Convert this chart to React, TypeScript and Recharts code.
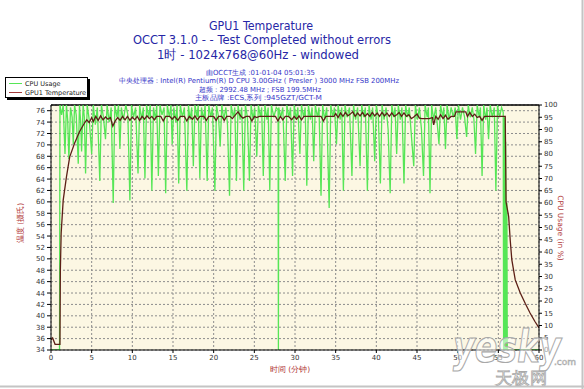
import { LineChart, Line, XAxis, YAxis, CartesianGrid, ReferenceLine } from "recharts";

// axis ticks
const minuteTicks = [0, 5, 10, 15, 20, 25, 30, 35, 40, 45, 50, 55, 60];
const tempTicks = [34, 36, 38, 40, 42, 44, 46, 48, 50, 52, 54, 56, 58, 60, 62, 64, 66, 68, 70, 72, 74, 76];
const cpuTicks = [0, 5, 10, 15, 20, 25, 30, 35, 40, 45, 50, 55, 60, 65, 70, 75, 80, 85, 90, 95, 100];

// GPU1 temperature, [minute, degrees]
const tempSamples: [number, number][] = [
  [0, 35.8], [0.2, 36.1], [0.5, 35.0], [1.1, 35.0], [1.15, 48], [1.25, 54.5], [1.5, 60.3],
  [1.9, 64.4], [2.3, 67.9], [2.9, 70.3], [3.5, 72.3], [4.1, 73.8], [4.4, 74.4], [4.7, 73.9],
  [5.0, 74.8], [5.2, 74.1], [5.5, 75.0], [5.8, 74.3], [6.1, 75.1], [6.4, 74.4], [6.7, 74.9],
  [7.0, 74.5], [7.3, 74.8], [7.6, 73.3], [7.9, 74.2], [8.2, 74.8], [8.5, 74.3], [8.8, 75.0],
  [9.1, 74.4], [9.4, 75.0], [9.7, 74.3], [10.0, 74.9], [10.3, 74.4], [10.6, 75.0], [10.9, 74.3],
  [11.2, 75.0], [11.5, 74.5], [11.8, 75.1], [12.1, 74.6], [12.4, 75.0], [12.7, 74.4], [13.0, 75.0],
  [13.5, 75.0], [13.8, 74.2], [14.1, 75.0], [14.6, 75.0], [14.9, 74.5], [15.2, 75.0], [15.6, 74.3],
  [15.9, 75.0], [16.4, 75.0], [16.7, 74.2], [17.0, 75.0], [17.4, 74.5], [17.7, 75.1], [18.0, 74.4],
  [18.3, 75.0], [18.8, 75.0], [19.1, 74.3], [19.4, 75.0], [20.0, 75.0], [20.3, 74.3], [20.6, 75.0],
  [21.0, 75.0], [21.3, 74.3], [21.6, 75.0], [22.0, 75.0], [22.3, 74.6], [22.7, 75.3], [23.0, 75.8],
  [23.3, 75.1], [23.6, 74.7], [24.0, 75.0], [24.4, 75.0], [24.7, 74.2], [25.0, 75.0], [25.3, 74.8],
  [25.6, 75.0], [27.6, 75.0], [27.9, 74.2], [28.2, 75.0], [28.5, 74.4], [28.8, 75.0], [29.2, 75.0],
  [29.6, 74.4], [29.9, 75.0], [30.2, 74.5], [30.5, 75.1], [30.8, 74.4], [31.1, 75.0], [33.2, 75.0],
  [33.5, 74.2], [33.8, 75.0], [34.8, 75.0], [35.0, 75.5], [35.3, 74.8], [35.6, 75.6], [35.9, 75.0],
  [36.2, 75.7], [36.5, 75.1], [36.8, 75.4], [37.1, 75.8], [37.4, 75.0], [37.7, 75.6], [38.0, 75.1],
  [38.3, 75.7], [38.6, 75.0], [38.9, 75.5], [39.2, 75.0], [39.5, 75.7], [39.8, 75.1], [40.1, 75.6],
  [40.4, 75.0], [40.7, 75.7], [41.0, 75.1], [41.3, 75.6], [41.6, 75.0], [41.9, 75.6], [42.2, 75.0],
  [42.5, 75.3], [42.8, 75.7], [43.1, 75.0], [43.4, 75.6], [43.7, 75.0], [44.0, 75.3], [44.3, 74.6],
  [44.6, 74.9], [45.0, 75.4], [45.3, 74.7], [45.6, 74.6], [46.5, 74.6], [46.9, 74.8], [47.05, 73.5],
  [47.3, 75.0], [47.6, 74.5], [47.9, 75.3], [48.2, 74.6], [48.5, 75.2], [48.8, 74.5], [49.2, 75.0],
  [49.6, 75.0], [49.8, 75.8], [51.0, 75.8], [51.2, 75.0], [51.5, 75.7], [51.8, 75.0], [52.1, 75.4],
  [52.4, 74.8], [52.7, 75.0], [53.0, 74.3], [53.3, 75.0], [55.85, 75.0], [55.95, 60.0], [56.27, 57.4],
  [56.46, 53.3], [56.66, 49.8], [57.08, 46.3], [57.7, 44.0], [58.3, 42.2], [58.9, 40.5], [59.5, 39.0],
  [60, 37.9],
];

// CPU usage in %, [minute, percent]
const cpuSamples: [number, number][] = [
  [0, 0], [1.05, 0], [1.1, 100], [1.3, 96], [1.5, 100], [1.72, 80], [1.9, 100], [2.05, 94], [2.2, 78],
  [2.4, 99], [2.6, 95], [2.74, 84], [2.9, 100], [3.1, 96], [3.35, 76], [3.5, 100], [3.65, 93], [3.76, 81],
  [3.95, 100], [4.1, 95], [4.25, 72], [4.45, 100], [4.7, 94], [5.0, 80], [5.2, 100], [5.45, 92], [5.7, 99],
  [6.0, 69], [6.2, 100], [6.45, 95], [6.7, 86], [6.9, 100], [7.15, 93], [7.4, 99], [7.65, 60], [7.85, 100],
  [8.1, 95], [8.3, 100], [8.47, 82], [8.65, 99], [8.9, 94], [9.2, 100], [9.45, 96], [9.7, 61], [9.9, 100],
  [10.15, 95], [10.4, 99], [10.7, 72], [10.9, 100], [11.15, 94], [11.35, 99], [11.55, 70], [11.75, 100],
  [12.0, 95], [12.2, 100], [12.4, 65], [12.6, 99], [12.85, 94], [13.0, 100], [13.2, 71], [13.4, 100],
  [13.65, 96], [13.9, 99], [14.1, 64], [14.3, 100], [14.55, 95], [14.75, 100], [14.9, 84], [15.1, 99],
  [15.35, 93], [15.5, 100], [15.7, 68], [15.9, 100], [16.15, 95], [16.4, 99], [16.7, 65], [16.9, 100],
  [17.1, 94], [17.3, 99], [17.5, 75], [17.7, 100], [17.95, 95], [18.1, 100], [18.3, 70], [18.5, 99],
  [18.75, 94], [18.95, 100], [19.2, 69], [19.4, 100], [19.65, 95], [19.85, 99], [20.15, 65], [20.35, 100],
  [20.6, 95], [20.8, 83], [21.0, 100], [21.25, 94], [21.5, 99], [21.7, 92], [21.95, 63], [22.15, 100],
  [22.4, 95], [22.6, 99], [22.8, 69], [23.0, 100], [23.25, 94], [23.45, 99], [23.7, 65], [23.9, 100],
  [24.15, 95], [24.4, 69], [24.6, 100], [24.85, 94], [25.05, 99], [25.3, 79], [25.5, 100], [25.75, 95],
  [25.9, 99], [26.1, 71], [26.3, 100], [26.55, 94], [26.7, 99], [26.9, 65], [27.1, 100], [27.4, 95],
  [27.7, 99], [27.92, 98], [27.96, 0], [28.0, 99], [28.25, 95], [28.5, 99], [28.8, 69], [29.0, 100],
  [29.25, 95], [29.45, 99], [29.7, 71], [29.9, 100], [30.15, 94], [30.35, 99], [30.6, 80], [30.8, 100],
  [31.05, 95], [31.25, 99], [31.45, 67], [31.65, 100], [31.9, 94], [32.1, 99], [32.3, 77], [32.5, 100],
  [32.75, 95], [32.95, 99], [33.2, 63], [33.4, 100], [33.65, 94], [33.9, 99], [34.2, 58], [34.4, 100],
  [34.65, 95], [34.85, 99], [35.1, 84], [35.3, 100], [35.55, 94], [35.75, 99], [35.95, 65], [36.15, 100],
  [36.4, 95], [36.7, 99], [37.0, 71], [37.2, 100], [37.45, 94], [37.7, 99], [38.0, 75], [38.2, 100],
  [38.45, 95], [38.65, 99], [38.9, 65], [39.1, 100], [39.35, 94], [39.55, 99], [39.8, 77], [40.0, 100],
  [40.25, 95], [40.5, 68], [40.7, 100], [40.95, 94], [41.2, 99], [41.45, 90], [41.7, 64], [41.9, 100],
  [42.15, 95], [42.3, 99], [42.5, 80], [42.7, 100], [42.95, 94], [43.15, 99], [43.4, 68], [43.6, 100],
  [43.85, 95], [44.05, 99], [44.3, 88], [44.6, 75], [44.8, 100], [45.05, 94], [45.3, 99], [45.55, 90],
  [45.8, 71], [46.0, 100], [46.25, 95], [46.4, 99], [46.6, 64], [46.8, 100], [47.05, 94], [47.3, 99],
  [47.5, 92], [47.7, 84], [47.9, 100], [48.15, 95], [48.3, 99], [48.5, 82], [48.7, 100], [48.95, 94],
  [49.2, 99], [49.45, 95], [49.7, 99], [49.9, 86], [50.1, 100], [50.35, 94], [50.6, 99], [50.85, 95],
  [51.1, 87], [51.3, 100], [51.55, 95], [51.8, 99], [52.0, 94], [52.2, 80], [52.4, 100], [52.65, 95],
  [52.8, 99], [53.0, 71], [53.2, 100], [53.45, 94], [53.6, 99], [53.8, 86], [54.0, 100], [54.25, 95],
  [54.5, 99], [54.7, 65], [54.9, 100], [55.15, 95], [55.4, 99], [55.6, 97], [55.65, 0], [55.75, 95],
  [55.8, 0], [55.9, 85], [55.95, 0], [56.05, 60], [56.1, 0], [60, 0],
];

const tempData = tempSamples.map(([t, temp]) => ({ t, temp }));
const cpuData = cpuSamples.map(([t, cpu]) => ({ t, cpu }));

const tickStyle = { fontSize: 7, fill: "#333", fontFamily: "DejaVu Sans" };
const titleBlue = "#2626a6";
const infoBlue = "#3535c8";
const axisRed = "#b03434";

const App = () => {
  return (
    <div style={{ position: "absolute", left: 0, top: 0, width: 584, height: 389, background: "#fff", overflow: "hidden" }}>
      <LineChart width={584} height={389} margin={{ top: 105, right: 15, bottom: 19, left: 21 }}>
        <CartesianGrid yAxisId="temp" fill="#fcf7e3" fillOpacity={1} stroke="#8c8c8c" strokeDasharray="2 2" />
        <XAxis
          dataKey="t"
          type="number"
          domain={[0, 60]}
          ticks={minuteTicks}
          interval={0}
          height={20}
          tick={tickStyle}
          tickSize={3}
          tickMargin={2}
          stroke="#000"
        />
        <YAxis
          yAxisId="temp"
          domain={[34, 77]}
          ticks={tempTicks}
          interval={0}
          width={30}
          tick={tickStyle}
          tickSize={4}
          tickMargin={2}
          stroke="#000"
          allowDataOverflow
        />
        <YAxis
          yAxisId="cpu"
          orientation="right"
          domain={[0, 100]}
          ticks={cpuTicks}
          interval={0}
          width={30}
          tick={tickStyle}
          tickSize={3}
          tickMargin={2}
          stroke="#000"
          allowDataOverflow
        />
        <ReferenceLine yAxisId="temp" y={77} stroke="#000" strokeWidth={1.5} />
        <Line
          data={cpuData}
          yAxisId="cpu"
          dataKey="cpu"
          type="linear"
          stroke="#56e656"
          strokeWidth={1.3}
          dot={false}
          isAnimationActive={false}
        />
        <Line
          data={tempData}
          yAxisId="temp"
          dataKey="temp"
          type="linear"
          stroke="#5c1f16"
          strokeWidth={1.3}
          dot={false}
          isAnimationActive={false}
        />
      </LineChart>

      {/* legend box */}
      <div
        style={{
          position: "absolute", left: 5, top: 77, width: 81, height: 19, background: "#fff",
          border: "1px solid #000", boxShadow: "2px 2px 0 #000", fontFamily: "DejaVu Sans", fontSize: 6.5, color: "#222",
        }}
      >
        <div style={{ display: "flex", alignItems: "center", height: 9, marginTop: 1 }}>
          <span style={{ display: "inline-block", width: 13, height: 1, background: "#56e656", margin: "0 3px 0 3px" }} />
          CPU Usage
        </div>
        <div style={{ display: "flex", alignItems: "center", height: 9 }}>
          <span style={{ display: "inline-block", width: 13, height: 1, background: "#a33a3a", margin: "0 3px 0 3px" }} />
          GPU1 Temperature
        </div>
      </div>

      <svg width={584} height={389} style={{ position: "absolute", left: 0, top: 0, pointerEvents: "none" }}>
        <g fontFamily="DejaVu Sans" textAnchor="middle" fill={titleBlue} fontSize={12.5}>
          <text x={261} y={29.5} textLength={104} lengthAdjust="spacingAndGlyphs">GPU1 Temperature</text>
          <text x={262} y={44} textLength={258} lengthAdjust="spacingAndGlyphs">OCCT 3.1.0 -  - Test Completed without errors</text>
          <text x={258} y={58.5} textLength={202} lengthAdjust="spacingAndGlyphs">1时 - 1024x768@60Hz - windowed</text>
        </g>
        <g fontFamily="DejaVu Sans" textAnchor="middle" fill={infoBlue} fontSize={7}>
          <text x={260.5} y={74.5} textLength={109} lengthAdjust="spacingAndGlyphs">由OCCT生成 :01-01-04 05:01:35</text>
          <text x={259} y={83} textLength={280} lengthAdjust="spacingAndGlyphs">中央处理器 : Intel(R) Pentium(R) D CPU 3.00GHz ( Presler ) 3000 MHz FSB 200MHz</text>
          <text x={260} y={91.5} textLength={122} lengthAdjust="spacingAndGlyphs">超频 : 2992.48 MHz ; FSB 199.5MHz</text>
          <text x={258.5} y={99.5} textLength={127} lengthAdjust="spacingAndGlyphs">主板品牌 :ECS,系列 :945GZT/GCT-M</text>
        </g>
        <g fontFamily="DejaVu Sans" fill={axisRed} fontSize={7.5} textAnchor="middle">
          <text x={23} y={223} transform="rotate(-90 23 223)">温度 (摄氏)</text>
          <text x={558} y={228} transform="rotate(90 558 228)">CPU Usage (in %)</text>
          <text x={290} y={372}>时间 (分钟)</text>
        </g>
        {/* yesky watermark */}
        <g fontFamily="DejaVu Sans" fill="#fff" fillOpacity={0.55} stroke="#a8a8a8" strokeWidth={1.2}>
          <text x={453} y={362} fontSize={44} fontStyle="italic" fontWeight="bold" textLength={108} lengthAdjust="spacingAndGlyphs">yesky</text>
          <text x={554} y={365} fontSize={9} strokeWidth={0.6}>.com</text>
          <text x={495} y={384} fontSize={17} strokeWidth={0.8} textLength={52} lengthAdjust="spacingAndGlyphs">天极网</text>
        </g>
        <line x1={582.5} y1={0} x2={582.5} y2={389} stroke="#c4c4c4" strokeWidth={2} />
        <line x1={0} y1={386.5} x2={584} y2={386.5} stroke="#c4c4c4" strokeWidth={2} />
      </svg>
    </div>
  );
};

export default App;
